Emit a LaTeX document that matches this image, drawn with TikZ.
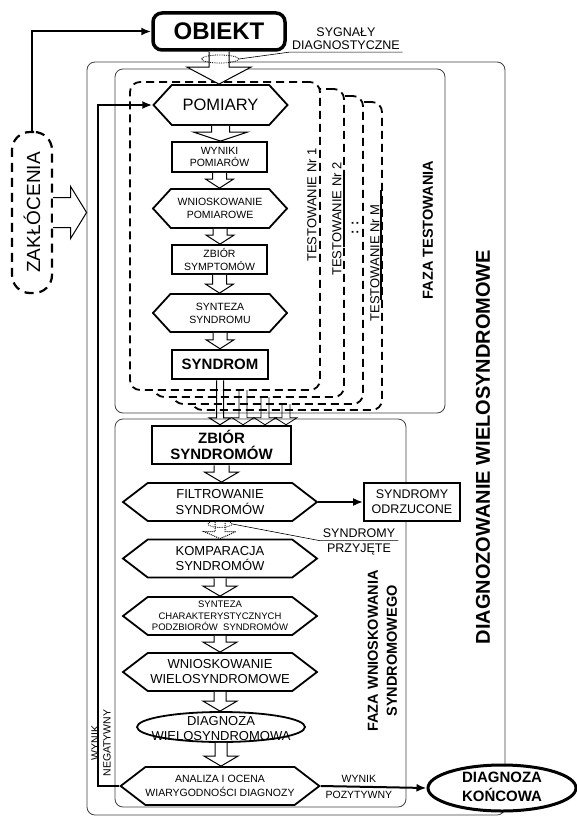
\documentclass[tikz,border=0pt]{standalone}
\usepackage{fontspec}
\setmainfont{Liberation Sans}
\usetikzlibrary{arrows,arrows.meta,calc,shapes.symbols,shapes.geometric}

% block arrow pointing down: [opts]{from}{to}{half shaft}{half head}{head length}
\newcommand{\hollowdown}[6][]{%
  \draw[hol,#1] let \p1=(#2), \p2=(#3) in
    (\x1-#4pt,\y1) -- (\x1-#4pt,\y2+#6pt) -- (\x1-#5pt,\y2+#6pt) -- (\x1,\y2)
    -- (\x1+#5pt,\y2+#6pt) -- (\x1+#4pt,\y2+#6pt) -- (\x1+#4pt,\y1);}
% block arrow pointing right
\newcommand{\hollowright}[6][]{%
  \draw[hol,#1] let \p1=(#2), \p2=(#3) in
    (\x1,\y1+#4pt) -- (\x2-#6pt,\y1+#4pt) -- (\x2-#6pt,\y1+#5pt) -- (\x2,\y1)
    -- (\x2-#6pt,\y1-#5pt) -- (\x2-#6pt,\y1-#4pt) -- (\x1,\y1-#4pt);}

\begin{document}
\begin{tikzpicture}[x=1pt,y=-1pt]
        \tikzstyle{every node}=[font=\fontsize{10.5}{13}\selectfont,align=center]
        \tikzstyle{frame}=[draw=black!75,line width=0.8pt,rounded corners=8pt]
        \tikzstyle{testbox}=[draw,fill=white,dashed,dash pattern=on 8pt off 5pt,line width=1.8pt,rounded corners=10pt,minimum width=190,minimum height=308]
        \tikzstyle{box}=[draw,fill=white,line width=1.8pt]
        \tikzstyle{hexa}=[signal,signal to=west and east,draw,fill=white,line width=1.8pt,inner sep=0pt]
        \tikzstyle{hexup}=[hexa,signal pointer angle=95,minimum width=134,minimum height=39]
        \tikzstyle{hexlow}=[hexa,signal pointer angle=75,minimum width=194,minimum height=38]
        \tikzstyle{hol}=[line width=1pt,line join=miter,fill=white]
        \tikzstyle{fb}=[line width=2pt,-{Latex[length=10pt,width=8pt]}]
        \useasboundingbox (0,0) rectangle (577,816);

        %%% frames
        \node[frame,minimum width=418,minimum height=753] (outer) at (296,438.5) {};
        \node[frame,minimum width=330,minimum height=344] (faza) at (280,241) {};
        \node[frame,minimum width=291,minimum height=388] (wnio) at (260.5,613) {};

        %%% lower phase
        \node[box,line width=2.5pt,minimum width=139,minimum height=38,font=\bfseries\fontsize{15}{16}\selectfont] (zbs) at (221.5,445) {ZBIÓR\\SYNDROMÓW};
        \node[hexlow,font=\fontsize{13}{16}\selectfont] (filt) at (220,502) {FILTROWANIE\\SYNDROMÓW};
        \node[box,minimum width=96,minimum height=38,font=\fontsize{12.5}{15}\selectfont] (odrz) at (412,502) {SYNDROMY\\ODRZUCONE};
        \node[hexlow,font=\fontsize{13}{15}\selectfont] (komp) at (220,558.5) {KOMPARACJA\\SYNDROMÓW};
        \node[hexlow,font=\fontsize{9.5}{11.5}\selectfont] (synt) at (220,616) {SYNTEZA\\CHARAKTERYSTYCZNYCH\\PODZBIORÓW\ \ SYNDROMÓW};
        \node[hexlow,font=\fontsize{13}{15}\selectfont] (wiel) at (220,672) {WNIOSKOWANIE\\WIELOSYNDROMOWE};
        \node[draw,ellipse,fill=white,line width=1.8pt,minimum width=168,minimum height=30,inner sep=0pt] (dwiel) at (221,727) {};
        \node[font=\fontsize{13}{15}\selectfont] (dwielt) at (221,728.5) {DIAGNOZA\\WIELOSYNDROMOWA};
        \node[hexlow,font=\fontsize{10.5}{14}\selectfont] (anal) at (220,786) {ANALIZA I OCENA\\WIARYGODNOŚCI DIAGNOZY};
        \node[draw,ellipse,fill=white,line width=3pt,minimum width=148,minimum height=46,inner sep=0pt] (konc) at (502,788) {};
        \node[font=\bfseries\fontsize{15}{19}\selectfont] (konct) at (502,787) {DIAGNOZA\\KOŃCOWA};

        %%% testing phase (back to front)
        \node[testbox] (test4) at (287,256) {};
        \coordinate (s4) at (286,392);
        \hollowdown[fill=none,line width=0.8pt]{s4}{s4 |- zbs.north}{4}{11}{7}
        \node[testbox] (test3) at (268,250) {};
        \coordinate (s3) at (265,385);
        \hollowdown[fill=none,line width=0.8pt]{s3}{s3 |- zbs.north}{4}{11}{7}
        \node[testbox] (test2) at (249,243) {};
        \coordinate (s2) at (243,378);
        \hollowdown[fill=none,line width=0.8pt]{s2}{s2 |- zbs.north}{4}{11}{7}
        \node[testbox] (test1) at (225,236) {};

        \node[hexup,minimum height=40,font=\fontsize{16.5}{19}\selectfont] (pom) at (220.5,105) {POMIARY};
        \node[box,minimum width=95,minimum height=30,font=\fontsize{10.5}{12}\selectfont] (wyn) at (219.5,157) {WYNIKI\\POMIARÓW};
        \node[hexup] (wpom) at (220,208.5) {WNIOSKOWANIE\\POMIAROWE};
        \node[box,minimum width=95,minimum height=29] (symp) at (219.5,259.5) {ZBIÓR\\SYMPTOMÓW};
        \node[hexup,minimum height=38] (ssyn) at (220,313) {SYNTEZA\\SYNDROMU};
        \node[box,line width=2.5pt,minimum width=96,minimum height=29,font=\bfseries\fontsize{15}{17}\selectfont] (synd) at (220,364.5) {SYNDROM};

        \node[rotate=90,font=\fontsize{13}{15}\selectfont] (lab1) at (312,205) {TESTOWANIE Nr 1};
        \node[rotate=90,font=\fontsize{13}{15}\selectfont] (lab2) at (337,219) {TESTOWANIE Nr 2};
        \node[rotate=90,font=\bfseries\fontsize{13}{15}\selectfont] (dots) at (355,228) {: :};
        \node[rotate=90,font=\fontsize{13}{15}\selectfont] (labm) at (375,263) {TESTOWANIE Nr M};
        \draw[line width=1.8pt] (344,172) -- (344,247);
        \draw[line width=1.8pt] (381,190) -- (381,300);
        \node[rotate=90,font=\bfseries\fontsize{14.5}{17}\selectfont] (fazat) at (428,230) {FAZA TESTOWANIA};
        \node[rotate=90,font=\bfseries\fontsize{20}{24}\selectfont] (diagt) at (483,447) {DIAGNOZOWANIE WIELOSYNDROMOWE};
        \node[rotate=90,font=\bfseries\fontsize{14.5}{19}\selectfont] (wniot) at (382.5,651) {FAZA WNIOSKOWANIA\\SYNDROMOWEGO};

        %%% object and disturbances
        \node[box,line width=3.5pt,rounded corners=9pt,minimum width=132,minimum height=37,font=\bfseries\fontsize{24}{28}\selectfont] (obiekt) at (219,31.5) {OBIEKT};
        \node[draw,dashed,dash pattern=on 9pt off 6pt,line width=2.2pt,rounded corners=18pt,minimum width=40,minimum height=161] (zak) at (32,212.5) {\rotatebox{90}{\fontsize{19}{22}\selectfont ZAKŁÓCENIA}};
        \node[font=\fontsize{12.5}{14}\selectfont,inner sep=1pt] (syg1) at (346,32) {SYGNAŁY};
        \node[font=\fontsize{12.5}{14}\selectfont,inner sep=2.5pt] (syg2) at (346,45) {DIAGNOSTYCZNE};

        %%% block arrows
        \hollowright{zak.east}{outer.west |- zak.east}{15}{26}{16}
        \hollowdown{obiekt.south}{pom.north}{10}{32}{17}
        \hollowdown{pom.south}{wyn.north}{9}{27}{9}
        \hollowdown{wyn.south}{wpom.north}{7}{14}{9}
        \hollowdown{wpom.south}{symp.north}{7}{14}{9}
        \hollowdown{symp.south}{ssyn.north}{7}{14}{9}
        \hollowdown{ssyn.south}{synd.north}{7}{14}{9}
        \hollowdown[fill=none]{synd.south}{synd.south |- zbs.north}{3.5}{11}{7}
        \hollowdown{zbs.south}{filt.north}{7.5}{17}{10}
        \hollowdown[densely dotted]{filt.south}{komp.north}{5}{16}{7}
        \hollowdown{komp.south}{synt.north}{6}{17}{10}
        \hollowdown{synt.south}{wiel.north}{6}{17}{10}
        \hollowdown{wiel.south}{dwiel.north}{6}{17}{10}
        \hollowdown{dwiel.south}{anal.north}{6}{17}{10}

        %%% signal labels
        \node[draw,densely dotted,ellipse,line width=0.8pt,minimum width=37,minimum height=8,inner sep=0pt] (ell1) at (220,59) {};
        \draw[line width=0.6pt] (ell1.east) -- (syg2.south west) -- (syg2.south east);
        \node[draw,densely dotted,ellipse,line width=0.8pt,minimum width=24,minimum height=7,inner sep=0pt] (ell2) at (220,524) {};
        \node[font=\fontsize{12.5}{14}\selectfont,inner sep=3pt] (prz1) at (359,533) {SYNDROMY};
        \node[font=\fontsize{12.5}{14}\selectfont] (prz2) at (359,549) {PRZYJĘTE};
        \draw[line width=0.6pt] (ell2.east) -- (prz1.south west) -- (prz1.south east);

        %%% connectors
        \draw[fb] (zak.north) |- (obiekt.west);
        \draw[fb] (anal.west) -- ++(-21,0) |- (pom.west);
        \node[rotate=90,font=\fontsize{10.5}{12}\selectfont] (neg) at (101,743) {WYNIK\\NEGATYWNY};
        \draw[fb] (filt.east) -- (odrz.west);
        \draw[fb] (anal.east) -- (konc.west) node[pos=0.36,above] (poz1) {WYNIK} node[pos=0.36,below] (poz2) {POZYTYWNY};
\end{tikzpicture}
\end{document}
